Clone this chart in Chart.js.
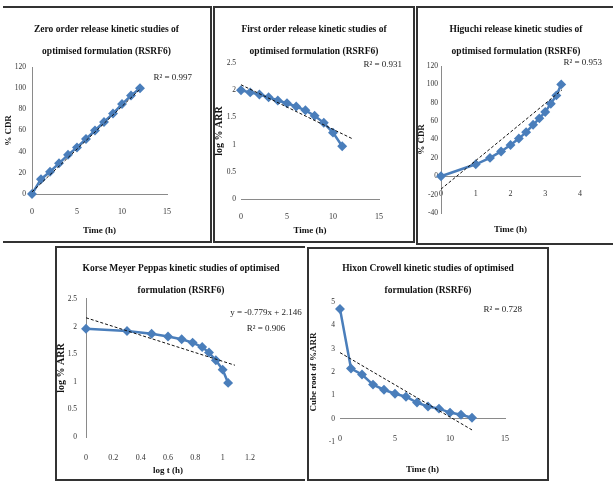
<!DOCTYPE html>
<html lang="en">
<head>
<meta charset="UTF-8">
<title>Release kinetic studies of optimised formulation (RSRF6)</title>
<script src="https://cdn.jsdelivr.net/npm/chart.js"></script>
<style>
  body { margin: 0; width: 613px; height: 481px; background: #fff; position: relative; overflow: hidden; }
  .panel { position: absolute; box-sizing: border-box; border: 2px solid #333; }
  .panel canvas { position: absolute; left: 0; top: 0; }
  #p1 { left: 3px; top: 6px; width: 209px; height: 237px; border-left: none; }
  #p2 { left: 213px; top: 6px; width: 202px; height: 237px; }
  #p3 { left: 416px; top: 6px; width: 200px; height: 239px; }
  #p4 { left: 55px; top: 246px; width: 250px; height: 235px; border-right: none; }
  #p5 { left: 307px; top: 247px; width: 242px; height: 234px; }
</style>
</head>
<body>

<div class="panel" id="p1"><canvas id="zeroChart" width="207" height="233"></canvas></div>
<div class="panel" id="p2"><canvas id="firstChart" width="198" height="233"></canvas></div>
<div class="panel" id="p3"><canvas id="higuchiChart" width="196" height="235"></canvas></div>
<div class="panel" id="p4"><canvas id="peppasChart" width="248" height="231"></canvas></div>
<div class="panel" id="p5"><canvas id="hixsonChart" width="238" height="230"></canvas></div>

<script>
  // values
  const hours = [0, 1, 2, 3, 4, 5, 6, 7, 8, 9, 10, 11, 12];
  const zeroOrderCdr = [0, 14, 21, 29, 37, 44, 52, 60, 68, 76, 85, 93, 100];
  const zeroTrendX = [0, 12];
  const zeroTrendY = [2, 99];

  const firstOrderHours = [0, 1, 2, 3, 4, 5, 6, 7, 8, 9, 10, 11];
  const firstOrderLogArr = [2.0, 1.96, 1.92, 1.87, 1.81, 1.76, 1.70, 1.63, 1.53, 1.40, 1.22, 0.97];
  const firstTrendX = [0, 12.2];
  const firstTrendY = [2.10, 1.10];

  const higuchiRootHours = [0, 1, 1.41, 1.73, 2, 2.24, 2.45, 2.65, 2.83, 3, 3.16, 3.32, 3.46];
  const higuchiCdr = [0, 13, 20, 27, 34, 41, 48, 56, 63, 70, 79, 88, 100];
  const higuchiTrendX = [0, 3.48];
  const higuchiTrendY = [-14, 94];

  const peppasLogHours = [0, 0.30, 0.48, 0.60, 0.70, 0.78, 0.85, 0.90, 0.95, 1.00, 1.04];
  const peppasLogArr = [1.96, 1.92, 1.87, 1.82, 1.77, 1.71, 1.63, 1.53, 1.39, 1.22, 0.98];
  const peppasTrendX = [0, 1.09];
  const peppasTrendY = [2.16, 1.30];

  const hixsonCubeRoot = [4.7, 2.15, 1.89, 1.46, 1.24, 1.07, 0.94, 0.69, 0.52, 0.43, 0.26, 0.17, 0.04];
  const hixsonTrendX = [0, 12.1];
  const hixsonTrendY = [2.83, -0.51];

  const titles = {
    zero: ['Zero order release kinetic studies of', 'optimised formulation (RSRF6)'],
    first: ['First order release kinetic studies of', 'optimised formulation (RSRF6)'],
    higuchi: ['Higuchi release kinetic studies of', 'optimised formulation (RSRF6)'],
    peppas: ['Korse Meyer Peppas kinetic studies of optimised', 'formulation (RSRF6)'],
    hixson: ['Hixon Crowell kinetic studies of optimised', 'formulation (RSRF6)']
  };

  const BLUE = '#4a7ebb';
  const serif = "'Liberation Serif', 'Times New Roman', serif";
  Chart.defaults.font.family = serif;
  Chart.defaults.color = '#333';

  function pairs(xs, ys) {
    return xs.map((x, i) => ({ x: x, y: ys[i] }));
  }

  // Excel style tick text: 1 instead of 1.0
  const plainNumber = v => String(+v.toFixed(2));

  // R² / equation text in the corner of each plot
  function notePlugin(lines, x, y, align) {
    return {
      id: 'note',
      afterDraw(chart) {
        const ctx = chart.ctx;
        ctx.save();
        ctx.font = '9px ' + serif;
        ctx.fillStyle = '#222';
        ctx.textAlign = align;
        ctx.textBaseline = 'middle';
        lines.forEach((t, i) => ctx.fillText(t, x, y + i * 16));
        ctx.restore();
      }
    };
  }

  function kineticChart(id, p) {
    return new Chart(document.getElementById(id), {
      type: 'scatter',
      data: {
        datasets: [
          {
            data: pairs(p.x, p.y),
            showLine: true,
            borderColor: BLUE,
            backgroundColor: BLUE,
            borderWidth: 2.5,
            pointStyle: 'rectRot',
            pointRadius: 3.2,
            pointHoverRadius: 3.2,
            clip: false,
            order: 2
          },
          {
            data: pairs(p.trendX, p.trendY),
            showLine: true,
            borderColor: '#111',
            borderWidth: 1,
            borderDash: [3, 2],
            pointRadius: 0,
            clip: false,
            order: 1
          }
        ]
      },
      options: {
        responsive: false,
        animation: false,
        layout: { padding: { left: 0, right: 0, top: 0, bottom: p.padBottom } },
        plugins: {
          legend: { display: false },
          tooltip: { enabled: false },
          title: {
            display: true,
            text: p.title,
            color: '#111',
            font: { size: 9.5, weight: 'bold', lineHeight: 2.3 },
            padding: p.titlePad
          }
        },
        scales: {
          x: {
            type: 'linear',
            position: p.xPos,
            min: p.xMin, max: p.xMax,
            ticks: { stepSize: p.xStep, padding: p.xTickPad, font: { size: 8 }, callback: plainNumber },
            grid: { display: false, drawTicks: false },
            border: { display: p.xLine, color: '#8a8a8a' },
            title: { display: true, text: p.xTitle, color: '#111', font: { size: 9, weight: 'bold' }, padding: { top: 0, bottom: p.xTitlePad } },
            afterFit: s => { s.height = p.xH; }
          },
          y: {
            type: 'linear',
            min: p.yMin, max: p.yMax,
            ticks: { stepSize: p.yStep, padding: p.yTickPad, font: { size: 7.5 }, callback: plainNumber },
            grid: { display: false, drawTicks: false },
            border: { display: p.yLine, color: '#8a8a8a' },
            title: { display: true, text: p.yTitle, color: '#111', font: { size: p.yTitleSize, weight: 'bold', lineHeight: 1 }, padding: { top: p.yTitlePad, bottom: 0 } },
            afterFit: s => { s.width = p.yW; }
          },
          // empty strip on the right, keeps the title centred on the whole panel
          gap: {
            type: 'linear',
            position: 'right',
            ticks: { display: false },
            grid: { display: false, drawTicks: false },
            border: { display: false },
            afterFit: s => { s.width = p.gapRight; }
          }
        }
      },
      plugins: [notePlugin(p.note, p.noteX, p.noteY, p.noteAlign)]
    });
  }

  kineticChart('zeroChart', {
    x: hours, y: zeroOrderCdr, trendX: zeroTrendX, trendY: zeroTrendY,
    title: titles.zero, titlePad: { top: 10.5, bottom: 4.8 },
    gapRight: 43, padBottom: 5,
    xPos: 'bottom', xMin: 0, xMax: 15, xStep: 5, xTickPad: 13, xLine: true,
    xTitle: 'Time (h)', xTitlePad: 0, xH: 42,
    yMin: 0, yMax: 120, yStep: 20, yTickPad: 6, yLine: true,
    yTitle: '% CDR', yTitleSize: 9, yTitlePad: 1.5, yW: 29,
    note: ['R² = 0.997'], noteX: 189, noteY: 70, noteAlign: 'right'
  });

  kineticChart('firstChart', {
    x: firstOrderHours, y: firstOrderLogArr, trendX: firstTrendX, trendY: firstTrendY,
    title: titles.first, titlePad: { top: 10.5, bottom: 0.8 },
    gapRight: 34, padBottom: 5,
    xPos: 'bottom', xMin: 0, xMax: 15, xStep: 5, xTickPad: 13, xLine: true,
    xTitle: 'Time (h)', xTitlePad: 0, xH: 37,
    yMin: 0, yMax: 2.5, yStep: 0.5, yTickPad: 5, yLine: false,
    yTitle: 'log % ARR', yTitleSize: 10, yTitlePad: -1, yW: 26,
    note: ['R² = 0.931'], noteX: 187, noteY: 57, noteAlign: 'right'
  });

  kineticChart('higuchiChart', {
    x: higuchiRootHours, y: higuchiCdr, trendX: higuchiTrendX, trendY: higuchiTrendY,
    title: titles.higuchi, titlePad: { top: 10.5, bottom: 3.8 },
    gapRight: 34, padBottom: 30,
    xPos: { y: 0 }, xMin: 0, xMax: 4, xStep: 1, xTickPad: 13, xLine: true,
    xTitle: 'Time (h)', xTitlePad: -34, xH: 25,
    yMin: -40, yMax: 120, yStep: 20, yTickPad: 3, yLine: true,
    yTitle: '% CDR', yTitleSize: 9, yTitlePad: -1, yW: 23,
    note: ['R² = 0.953'], noteX: 184, noteY: 55, noteAlign: 'right'
  });

  kineticChart('peppasChart', {
    x: peppasLogHours, y: peppasLogArr, trendX: peppasTrendX, trendY: peppasTrendY,
    title: titles.peppas, titlePad: { top: 10, bottom: -2.7 },
    gapRight: 55, padBottom: 3,
    xPos: 'bottom', xMin: 0, xMax: 1.2, xStep: 0.2, xTickPad: 16, xLine: false,
    xTitle: 'log t (h)', xTitlePad: 0, xH: 39,
    yMin: 0, yMax: 2.5, yStep: 0.5, yTickPad: 9, yLine: true,
    yTitle: 'log % ARR', yTitleSize: 10, yTitlePad: -1, yW: 29,
    note: ['y = -0.779x + 2.146', 'R² = 0.906'], noteX: 209, noteY: 65, noteAlign: 'center'
  });

  kineticChart('hixsonChart', {
    x: hours, y: hixsonCubeRoot, trendX: hixsonTrendX, trendY: hixsonTrendY,
    title: titles.hixson, titlePad: { top: 8.5, bottom: 0.8 },
    gapRight: 42, padBottom: 37,
    xPos: { y: 0 }, xMin: 0, xMax: 15, xStep: 5, xTickPad: 15, xLine: true,
    xTitle: 'Time (h)', xTitlePad: -26.7, xH: 30,
    yMin: -1, yMax: 5, yStep: 1, yTickPad: 5, yLine: false,
    yTitle: 'Cube root of %ARR', yTitleSize: 9, yTitlePad: 0, yW: 31,
    note: ['R² = 0.728'], noteX: 213, noteY: 61, noteAlign: 'right'
  });
</script>

</body>
</html>
